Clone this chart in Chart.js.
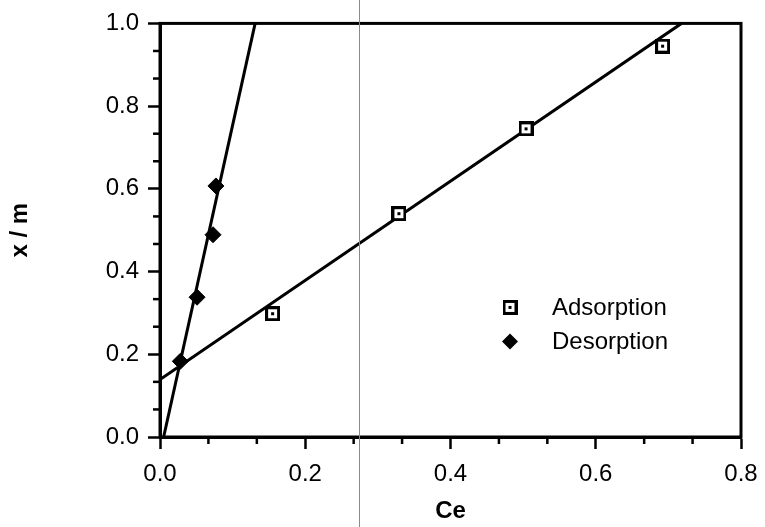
<!DOCTYPE html>
<html>
<head>
<meta charset="utf-8">
<script src="https://cdn.jsdelivr.net/npm/chart.js@4/dist/chart.umd.min.js"></script>
<style>
    html, body { margin: 0; padding: 0; background: #fff; }
    #wrap { position: relative; width: 765px; height: 527px; }
    #scanline { position: absolute; left: 359px; top: 0; width: 1px; height: 527px; background: #8a8a8a; }
</style>
</head>
<body>
<div id="wrap">
    <canvas id="isothermChart" width="765" height="527"></canvas>
    <div id="scanline"></div>
</div>
<script>
// Adsorption / desorption isotherm data
const adsCe = [0.155, 0.329, 0.504, 0.692];
const adsXm = [0.298, 0.540, 0.745, 0.945];
const desCe = [0.028, 0.051, 0.073, 0.077];
const desXm = [0.183, 0.338, 0.489, 0.607];

// linear fit lines (end points)
const adsFitCe = [0.0, 0.718];
const adsFitXm = [0.139, 1.0];
const desFitCe = [0.005, 0.131];
const desFitXm = [0.0, 1.0];

const xTicks = [0.0, 0.2, 0.4, 0.6, 0.8];
const yTicks = [0.0, 0.2, 0.4, 0.6, 0.8, 1.0];
const seriesNames = ['Adsorption', 'Desorption'];

const FONT = "'Liberation Sans', Arial, Helvetica, sans-serif";

function toPoints(xs, ys) {
    return xs.map((x, i) => ({ x: x, y: ys[i] }));
}

// open square with a dot in the middle
function squareMarker() {
    const c = document.createElement('canvas');
    c.width = 15; c.height = 15;
    const g = c.getContext('2d');
    g.fillStyle = '#fff';
    g.fillRect(0, 0, 15, 15);
    g.strokeStyle = '#000';
    g.lineWidth = 3;
    g.strokeRect(1.5, 1.5, 12, 12);
    g.fillStyle = '#000';
    g.fillRect(6, 6, 3, 3);
    return c;
}
const sq = squareMarker();

function diamond(ctx, x, y, r) {
    ctx.beginPath();
    ctx.moveTo(x, y - r);
    ctx.lineTo(x + r, y);
    ctx.lineTo(x, y + r);
    ctx.lineTo(x - r, y);
    ctx.closePath();
    ctx.fill();
}

const framePlugin = {
    id: 'frame',
    afterDraw(chart) {
        const { ctx, chartArea: a, scales } = chart;
        ctx.save();
        ctx.strokeStyle = '#000';
        ctx.lineWidth = 2.5;
        // minor ticks, three per major interval
        ['x', 'y'].forEach(id => {
            const s = scales[id];
            const step = 0.2 / 3;
            for (let i = 1; i * step < s.max + 1e-9; i++) {
                if (i % 3 === 0) continue;
                const p = s.getPixelForValue(i * step);
                ctx.beginPath();
                if (id === 'x') { ctx.moveTo(p, a.bottom); ctx.lineTo(p, a.bottom + 7); }
                else { ctx.moveTo(a.left, p); ctx.lineTo(a.left - 7, p); }
                ctx.stroke();
            }
        });
        ctx.lineWidth = 3;
        ctx.strokeRect(a.left, a.top, a.right - a.left, a.bottom - a.top);

        // legend inside the plot
        const lx = a.left + 350, ly = a.top + 284;
        ctx.drawImage(sq, lx - 7.5, ly - 7.5);
        ctx.fillStyle = '#000';
        diamond(ctx, lx, ly + 34, 8);
        ctx.font = '24px ' + FONT;
        ctx.textBaseline = 'middle';
        ctx.fillText(seriesNames[0], lx + 42, ly + 1);
        ctx.fillText(seriesNames[1], lx + 42, ly + 35);
        ctx.restore();
    }
};

new Chart(document.getElementById('isothermChart'), {
    type: 'scatter',
    data: {
        datasets: [
            {
                label: seriesNames[0],
                data: toPoints(adsCe, adsXm),
                pointStyle: sq,
                pointRadius: 7,
                order: 0
            },
            {
                label: seriesNames[1],
                data: toPoints(desCe, desXm),
                pointStyle: 'rectRot',
                pointRadius: 8,
                backgroundColor: '#000',
                borderColor: '#000',
                borderWidth: 1,
                order: 0
            },
            {
                label: 'fit ads',
                data: toPoints(adsFitCe, adsFitXm),
                showLine: true,
                borderColor: '#000',
                borderWidth: 3,
                pointRadius: 0,
                order: 1
            },
            {
                label: 'fit des',
                data: toPoints(desFitCe, desFitXm),
                showLine: true,
                borderColor: '#000',
                borderWidth: 3,
                pointRadius: 0,
                order: 1
            }
        ]
    },
    options: {
        responsive: false,
        animation: false,
        devicePixelRatio: 1,
        layout: { padding: { top: 21, right: 24, left: 0, bottom: 0 } },
        plugins: { legend: { display: false }, tooltip: { enabled: false } },
        scales: {
            x: {
                type: 'linear',
                min: xTicks[0],
                max: xTicks[xTicks.length - 1],
                afterFit: s => { s.height = 90; s.paddingRight = 0; },
                afterBuildTicks: s => { s.ticks = xTicks.map(v => ({ value: v })); },
                ticks: {
                    padding: 11,
                    color: '#000',
                    font: { family: FONT, size: 24 },
                    maxRotation: 0,
                    callback: v => Number(v).toFixed(1)
                },
                grid: { drawOnChartArea: false, tickLength: 12, tickWidth: 2.5, tickColor: '#000' },
                border: { display: true, width: 3, color: '#000' },
                title: {
                    display: true,
                    text: 'Ce',
                    color: '#000',
                    font: { family: FONT, size: 24, weight: 'bold' },
                    padding: { top: 0, bottom: 1 }
                }
            },
            y: {
                type: 'linear',
                min: yTicks[0],
                max: yTicks[yTicks.length - 1],
                afterFit: s => { s.width = 160; },
                afterBuildTicks: s => { s.ticks = yTicks.map(v => ({ value: v })); },
                ticks: {
                    padding: 9,
                    color: '#000',
                    font: { family: FONT, size: 24 },
                    callback: v => Number(v).toFixed(1)
                },
                grid: { drawOnChartArea: false, tickLength: 12, tickWidth: 2.5, tickColor: '#000' },
                border: { display: true, width: 3, color: '#000' },
                title: {
                    display: true,
                    text: 'x / m',
                    color: '#000',
                    font: { family: FONT, size: 24, weight: 'bold' },
                    padding: { top: 6, bottom: 0 }
                }
            }
        }
    },
    plugins: [framePlugin]
});
</script>
</body>
</html>
